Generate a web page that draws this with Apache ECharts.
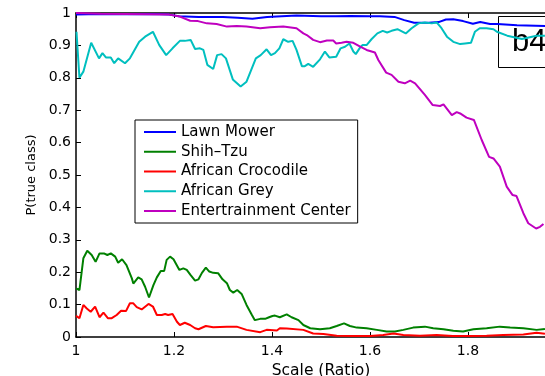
<!DOCTYPE html>
<html>
<head>
<meta charset="utf-8">
<script src="https://cdn.jsdelivr.net/npm/echarts@6/dist/echarts.min.js"></script>
<style>
html,body{margin:0;padding:0;background:#fff;}
#chart{width:545px;height:376px;}
</style>
</head>
<body>
<div id="chart"></div>
<script>
const seriesNames = ['Lawn Mower', 'Shih\u2013Tzu', 'African Crocodile', 'African Grey', 'Entertrainment Center'];
const seriesColors = ['#0000ff', '#008000', '#ff0000', '#00bfbf', '#bf00bf'];
const xTicks = { min: 1, max: 2, interval: 0.2 };
const yTicks = { min: 0, max: 1, interval: 0.1 };

const lawnMower = [[1.00,0.995],[1.05,0.997],[1.10,0.996],[1.15,0.997],[1.19,0.995],[1.21,0.99],[1.25,0.988],[1.30,0.988],[1.33,0.985],[1.36,0.982],[1.39,0.988],[1.42,0.99],[1.45,0.992],[1.50,0.99],[1.53,0.99],[1.56,0.991],[1.60,0.99],[1.62,0.99],[1.65,0.988],[1.67,0.978],[1.69,0.97],[1.72,0.97],[1.74,0.972],[1.755,0.98],[1.77,0.981],[1.79,0.975],[1.81,0.967],[1.825,0.972],[1.845,0.966],[1.86,0.966],[1.90,0.962],[1.96,0.96]];

const shihTzu = [[1.000,0.15],[1.007,0.145],[1.015,0.243],[1.023,0.266],[1.032,0.253],[1.040,0.232],[1.048,0.258],[1.057,0.258],[1.064,0.253],[1.071,0.258],[1.080,0.248],[1.086,0.229],[1.094,0.24],[1.103,0.222],[1.114,0.181],[1.117,0.165],[1.127,0.184],[1.134,0.178],[1.141,0.155],[1.149,0.122],[1.158,0.16],[1.165,0.184],[1.173,0.204],[1.180,0.204],[1.185,0.238],[1.192,0.248],[1.199,0.24],[1.211,0.207],[1.219,0.212],[1.226,0.207],[1.234,0.191],[1.243,0.174],[1.250,0.178],[1.257,0.198],[1.265,0.214],[1.272,0.202],[1.280,0.198],[1.290,0.197],[1.299,0.178],[1.308,0.166],[1.314,0.145],[1.321,0.137],[1.329,0.145],[1.338,0.133],[1.348,0.099],[1.359,0.068],[1.365,0.052],[1.376,0.056],[1.386,0.056],[1.394,0.061],[1.401,0.065],[1.406,0.066],[1.416,0.061],[1.430,0.07],[1.440,0.061],[1.454,0.052],[1.464,0.037],[1.478,0.027],[1.498,0.024],[1.518,0.027],[1.532,0.034],[1.547,0.042],[1.559,0.034],[1.573,0.029],[1.593,0.027],[1.614,0.022],[1.634,0.017],[1.651,0.017],[1.668,0.022],[1.688,0.029],[1.712,0.032],[1.729,0.027],[1.750,0.024],[1.770,0.019],[1.790,0.017],[1.811,0.024],[1.838,0.027],[1.865,0.032],[1.886,0.029],[1.913,0.027],[1.940,0.022],[1.957,0.025]];

const africanCrocodile = [[1.000,0.065],[1.007,0.058],[1.015,0.099],[1.022,0.088],[1.030,0.078],[1.039,0.094],[1.048,0.061],[1.056,0.075],[1.065,0.058],[1.073,0.058],[1.083,0.068],[1.092,0.081],[1.102,0.08],[1.110,0.104],[1.117,0.104],[1.124,0.092],[1.134,0.085],[1.148,0.102],[1.157,0.094],[1.165,0.068],[1.175,0.068],[1.182,0.071],[1.188,0.068],[1.197,0.071],[1.206,0.047],[1.212,0.037],[1.222,0.044],[1.233,0.037],[1.243,0.027],[1.250,0.024],[1.253,0.03],[1.265,0.034],[1.280,0.03],[1.308,0.032],[1.328,0.032],[1.348,0.022],[1.376,0.015],[1.389,0.022],[1.410,0.02],[1.416,0.027],[1.430,0.026],[1.464,0.022],[1.484,0.011],[1.505,0.009],[1.532,0.004],[1.566,0.003],[1.600,0.003],[1.627,0.006],[1.648,0.011],[1.668,0.006],[1.702,0.004],[1.736,0.006],[1.769,0.003],[1.804,0.003],[1.838,0.004],[1.872,0.006],[1.913,0.008],[1.940,0.013],[1.957,0.01]];

const africanGrey = [[1.001,0.942],[1.007,0.80],[1.015,0.819],[1.031,0.908],[1.047,0.86],[1.054,0.876],[1.061,0.863],[1.071,0.863],[1.078,0.845],[1.086,0.86],[1.100,0.845],[1.110,0.86],[1.129,0.911],[1.141,0.927],[1.157,0.942],[1.170,0.901],[1.184,0.87],[1.188,0.87],[1.197,0.891],[1.212,0.914],[1.222,0.914],[1.234,0.917],[1.243,0.889],[1.253,0.891],[1.260,0.886],[1.268,0.84],[1.280,0.827],[1.288,0.87],[1.297,0.873],[1.306,0.86],[1.320,0.795],[1.336,0.773],[1.348,0.788],[1.367,0.86],[1.377,0.87],[1.389,0.888],[1.398,0.87],[1.406,0.876],[1.415,0.891],[1.423,0.919],[1.433,0.911],[1.442,0.914],[1.450,0.886],[1.461,0.836],[1.467,0.836],[1.474,0.843],[1.484,0.834],[1.498,0.857],[1.508,0.881],[1.517,0.863],[1.531,0.865],[1.540,0.891],[1.549,0.896],[1.558,0.906],[1.566,0.881],[1.571,0.873],[1.580,0.894],[1.585,0.901],[1.593,0.901],[1.603,0.919],[1.615,0.937],[1.626,0.945],[1.635,0.94],[1.644,0.945],[1.656,0.95],[1.663,0.945],[1.673,0.937],[1.685,0.953],[1.699,0.968],[1.712,0.971],[1.726,0.968],[1.736,0.971],[1.746,0.953],[1.757,0.927],[1.770,0.911],[1.784,0.904],[1.794,0.906],[1.806,0.908],[1.814,0.942],[1.824,0.953],[1.838,0.953],[1.852,0.95],[1.859,0.942],[1.880,0.93],[1.910,0.92],[1.940,0.93],[1.957,0.93]];

const entertainmentCenter = [[1.000,1.0],[1.050,0.998],[1.100,0.997],[1.150,0.996],[1.190,0.995],[1.212,0.989],[1.233,0.976],[1.249,0.975],[1.267,0.968],[1.287,0.966],[1.308,0.958],[1.328,0.96],[1.348,0.958],[1.376,0.953],[1.396,0.956],[1.423,0.958],[1.450,0.953],[1.464,0.937],[1.471,0.932],[1.484,0.917],[1.498,0.91],[1.512,0.915],[1.525,0.915],[1.531,0.906],[1.542,0.908],[1.552,0.911],[1.566,0.908],[1.580,0.896],[1.593,0.886],[1.610,0.878],[1.617,0.855],[1.633,0.816],[1.644,0.809],[1.658,0.788],[1.671,0.783],[1.682,0.791],[1.692,0.783],[1.712,0.747],[1.728,0.716],[1.743,0.713],[1.750,0.718],[1.767,0.685],[1.777,0.694],[1.784,0.69],[1.797,0.677],[1.812,0.67],[1.828,0.608],[1.843,0.556],[1.852,0.551],[1.865,0.526],[1.879,0.464],[1.891,0.438],[1.899,0.435],[1.913,0.382],[1.923,0.351],[1.939,0.335],[1.947,0.34],[1.954,0.349]];

const seriesData = [lawnMower, shihTzu, africanCrocodile, africanGrey, entertainmentCenter];

const chart = echarts.init(document.getElementById('chart'), null, {renderer: 'canvas'});
const axisLine = {show: true, onZero: false, lineStyle: {color: '#000', width: 1.5}};
const axisTick = {show: true, inside: true, length: 5, lineStyle: {color: '#000', width: 1}};

chart.setOption({
  animation: false,
  backgroundColor: '#fff',
  grid: {left: 76, top: 13, bottom: 39, right: -21, containLabel: false, outerBoundsMode: 'none'},
  xAxis: [{
    type: 'value', position: 'bottom',
    min: xTicks.min, max: xTicks.max, interval: xTicks.interval,
    axisLine: axisLine, axisTick: axisTick, splitLine: {show: false},
    axisLabel: {color: '#000', fontSize: 14, fontFamily: 'DejaVu Sans', margin: 7},
    name: 'Scale (Ratio)', nameLocation: 'middle', nameGap: 21,
    nameTextStyle: {color: '#000', fontSize: 15.5, fontFamily: 'DejaVu Sans'}
  }, {
    type: 'value', position: 'top',
    min: xTicks.min, max: xTicks.max, interval: xTicks.interval,
    axisLine: axisLine, axisTick: axisTick, splitLine: {show: false},
    axisLabel: {show: false}
  }],
  yAxis: {
    type: 'value', min: yTicks.min, max: yTicks.max, interval: yTicks.interval,
    axisLine: axisLine, axisTick: axisTick, splitLine: {show: false},
    axisLabel: {color: '#000', fontSize: 14, fontFamily: 'DejaVu Sans', margin: 5},
    name: 'P(true class)', nameLocation: 'middle', nameGap: 36, nameRotate: 90,
    nameTextStyle: {color: '#000', fontSize: 13, fontFamily: 'DejaVu Sans'}
  },
  legend: {
    orient: 'vertical', left: 135, top: 120,
    padding: [4.5, 7, 4.5, 8],
    backgroundColor: '#fff', borderColor: '#000', borderWidth: 1,
    itemWidth: 32, itemHeight: 14, itemGap: 4.75, itemStyle: {opacity: 0},
    textStyle: {color: '#000', fontSize: 15, fontFamily: 'DejaVu Sans', lineHeight: 15},
    data: seriesNames
  },
  series: seriesNames.map((n, i) => ({
    name: n, type: 'line', data: seriesData[i],
    symbol: 'none', showSymbol: false,
    lineStyle: {color: seriesColors[i], width: 2},
    itemStyle: {color: seriesColors[i]},
    clip: true
  })),
  graphic: [{
    type: 'group', z: 100,
    children: [{
      type: 'rect', shape: {x: 498.5, y: 16.5, width: 80, height: 51},
      style: {fill: '#fff', stroke: '#000', lineWidth: 1}
    }, {
      type: 'text', x: 512, y: 42,
      style: {text: 'b4', fill: '#000', fontSize: 31, fontFamily: '"Liberation Sans Narrow", "Liberation Sans", sans-serif', verticalAlign: 'middle', align: 'left'}
    }]
  }]
});
</script>
</body>
</html>
